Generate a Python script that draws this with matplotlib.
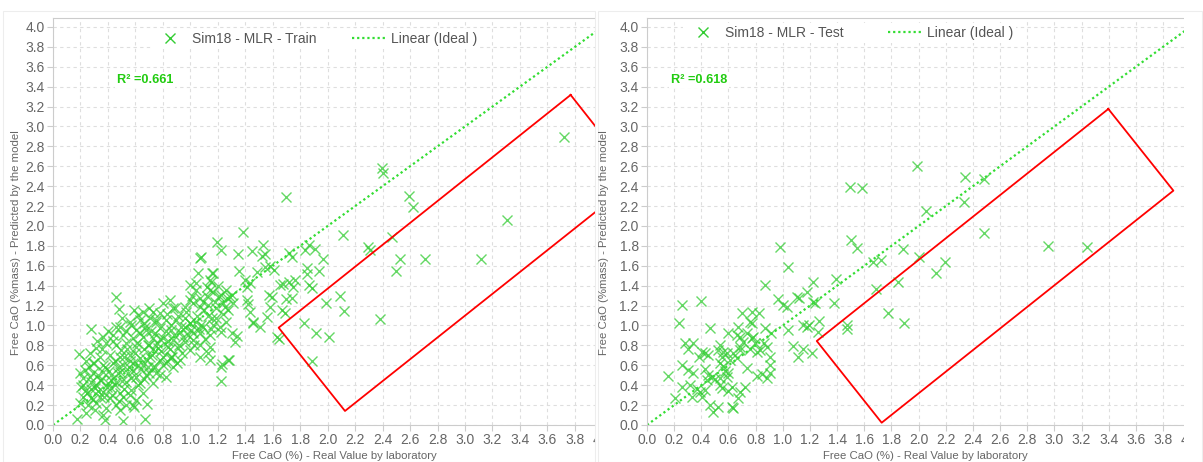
import matplotlib
matplotlib.use("Agg")
import matplotlib.pyplot as plt
from matplotlib.lines import Line2D
from matplotlib.patches import Rectangle
import numpy as np

plt.rcParams['font.family'] = ['Liberation Sans', 'DejaVu Sans']

# Free CaO, training set: real (lab) value vs model prediction
train_real = [
    0.995, 1.044, 1.262, 1.286, 1.226, 1.141, 1.068,
    0.801, 0.850, 0.874, 0.959, 0.995, 1.019, 1.068, 1.129, 1.189, 1.238, 1.274, 0.728, 0.777, 0.655, 0.619,
    0.558, 0.631, 0.704, 0.752, 0.825, 0.898, 0.959, 0.995, 1.044, 1.092, 1.165, 1.214, 1.262, 0.485, 0.607,
    0.680, 0.777, 0.862, 0.922, 1.007, 1.068, 1.141, 1.226,
    0.364, 0.437, 0.510, 0.583, 0.655, 0.728, 0.801, 0.874, 0.959, 1.019, 0.388, 0.461, 0.534, 0.607, 0.692,
    0.765, 0.837, 0.910, 0.995, 1.068, 0.316, 0.498,
    0.267, 0.340, 0.413, 0.485, 0.558, 0.631, 0.704, 0.777, 0.850, 0.922, 0.291, 0.364, 0.437, 0.510, 0.583,
    0.655, 0.728, 0.801, 0.874, 1.068, 1.141,
    0.231, 0.291, 0.364, 0.425, 0.485, 0.546, 0.607, 0.680, 0.752, 0.825, 0.218, 0.279, 0.340, 0.400, 0.461,
    0.534, 0.631, 0.728,
    0.206, 0.243, 0.303, 0.364, 0.425, 0.485, 0.570, 0.655, 0.218, 0.279, 0.340, 0.413, 0.510, 0.607,
    0.194, 0.255, 0.316, 0.388, 0.461, 0.583, 0.243, 0.303, 0.364, 0.485,
    0.172, 0.379, 0.507, 0.669, 0.590, 0.687,
    0.461, 0.481, 0.274, 0.189, 1.226, 1.226, 1.274, 1.075, 1.226, 1.056, 1.160, 1.044, 1.153,
    2.393, 2.400, 2.594, 2.623, 2.466, 2.526, 2.497, 2.708, 3.114, 3.308, 3.723, 2.381,
    1.694, 1.386, 2.109, 2.296, 2.308, 2.090, 1.988, 2.121, 1.830, 1.915, 2.009, 1.888,
    1.835, 1.866, 1.908, 1.968, 1.720, 1.738, 1.847, 1.847, 1.939, 1.866, 1.883, 1.720, 1.762, 1.745,
    1.653, 1.677, 1.696, 1.738, 1.629, 1.648, 1.665, 1.689, 1.507, 1.454, 1.556, 1.580, 1.592, 1.575,
    1.531, 1.544, 1.519, 1.447, 1.345, 1.196, 1.357, 1.483, 1.544, 1.580, 1.609, 1.434, 1.410, 1.398,
    1.301, 1.265, 1.252, 1.313, 1.410, 1.422, 1.434, 1.458, 1.337, 1.325, 1.301, 1.228, 1.284,
    1.143, 1.131, 1.070, 1.167, 1.143, 1.119, 1.167,
    # dense core of the cloud
    0.30, 0.33, 0.38, 0.42, 0.45, 0.47, 0.52, 0.55, 0.57, 0.60, 0.62, 0.66, 0.68, 0.70, 0.72, 0.74, 0.76, 0.79,
    0.82, 0.84, 0.86, 0.88, 0.91, 0.93, 0.95, 0.97, 1.00, 1.02, 1.05, 1.08, 1.10, 1.12, 1.16, 1.18, 1.20, 1.24,
    0.22, 0.25, 0.27, 0.29, 0.31, 0.33, 0.35, 0.37, 0.39, 0.41, 0.43, 0.45, 0.48, 0.50, 0.52, 0.54, 0.56, 0.58,
    0.61, 0.63, 0.64, 0.67, 0.69, 0.71, 0.73, 0.75, 0.78, 0.80, 0.83, 0.85, 0.87, 0.89, 0.92, 0.94, 0.96, 0.98,
    1.01, 1.03, 1.06, 1.09, 1.11, 1.13, 1.15, 1.19, 1.21, 0.26, 0.28, 0.20, 0.24, 0.32, 0.36, 0.40, 0.44, 0.46,
    0.50, 0.53, 0.57, 0.59, 0.66, 0.70, 0.48, 0.53, 0.56, 0.62, 0.66, 0.70, 0.74, 0.78, 0.82, 0.86, 0.90,
]
train_pred = [
    1.407, 1.357, 1.357, 1.290, 1.307, 1.357, 1.273,
    1.223, 1.256, 1.173, 1.189, 1.256, 1.223, 1.189, 1.206, 1.173, 1.223, 1.156, 1.139, 1.123, 1.139, 1.106,
    1.039, 1.056, 1.072, 1.039, 1.056, 1.056, 1.072, 1.022, 1.039, 0.988, 1.005, 0.988, 1.039, 0.988, 0.955,
    0.955, 0.972, 0.955, 0.938, 0.955, 0.921, 0.905, 0.938,
    0.888, 0.905, 0.905, 0.871, 0.888, 0.871, 0.871, 0.854, 0.838, 0.854, 0.821, 0.804, 0.821, 0.787, 0.804,
    0.771, 0.787, 0.771, 0.754, 0.804, 0.771, 0.754,
    0.720, 0.687, 0.704, 0.687, 0.704, 0.670, 0.687, 0.653, 0.670, 0.653, 0.620, 0.603, 0.620, 0.603, 0.620,
    0.603, 0.587, 0.603, 0.587, 0.687, 0.653,
    0.553, 0.519, 0.536, 0.503, 0.536, 0.519, 0.486, 0.503, 0.519, 0.486, 0.469, 0.436, 0.452, 0.419, 0.436,
    0.436, 0.419, 0.419,
    0.385, 0.352, 0.369, 0.335, 0.369, 0.318, 0.352, 0.318, 0.285, 0.268, 0.285, 0.268, 0.285, 0.252,
    0.218, 0.201, 0.218, 0.168, 0.201, 0.201, 0.117, 0.151, 0.101, 0.151,
    0.060, 0.050, 0.040, 0.060, 0.184, 0.211,
    1.290, 1.163, 0.965, 0.714, 0.586, 0.445, 0.653, 1.692, 1.759, 1.524, 1.524, 1.424, 1.441,
    2.580, 2.530, 2.300, 2.194, 1.887, 1.668, 1.551, 1.668, 1.668, 2.060, 2.898, 1.062,
    2.288, 1.937, 1.906, 1.786, 1.759, 1.300, 1.223, 1.149, 1.028, 0.921, 0.881, 0.646,
    1.759, 1.809, 1.766, 1.665, 1.732, 1.692, 1.575, 1.518, 1.551, 1.407, 1.374, 1.440, 1.457, 1.390,
    1.407, 1.417, 1.263, 1.273, 0.881, 0.861, 1.156, 1.122, 0.988, 1.038, 1.082, 1.189, 1.290, 1.307,
    1.809, 1.719, 1.698, 1.752, 1.719, 1.842, 1.551, 1.541, 1.585, 1.598, 1.558, 1.430, 1.390, 1.457,
    1.307, 1.273, 1.189, 1.223, 1.256, 1.216, 1.139, 1.028, 0.894, 0.837, 0.921, 0.613, 0.653,
    0.787, 0.727, 1.675, 1.524, 1.457, 1.390, 1.340,
    # dense core of the cloud
    0.62, 0.50, 0.58, 0.45, 0.64, 0.52, 0.68, 0.58, 0.47, 0.72, 0.60, 0.76, 0.66, 0.80, 0.70, 0.92, 0.82, 0.74,
    0.94, 0.84, 1.00, 0.90, 1.10, 0.98, 0.88, 1.14, 1.02, 0.92, 1.10, 1.00, 1.16, 1.30, 1.08, 1.24, 1.40, 1.12,
    0.40, 0.32, 0.48, 0.26, 0.40, 0.34, 0.45, 0.28, 0.38, 0.54, 0.30, 0.40, 0.58, 0.44, 0.36, 0.76, 0.64, 0.54,
    0.82, 0.92, 0.56, 0.98, 0.58, 0.94, 0.76, 1.06, 0.86, 0.68, 1.12, 0.76, 0.68, 1.18, 0.80, 0.72, 0.98, 0.90,
    1.30, 0.80, 0.96, 1.24, 0.86, 1.10, 0.96, 1.08, 1.30, 0.58, 0.36, 0.52, 0.64, 0.84, 0.76, 0.94, 0.84, 0.98,
    1.08, 0.94, 1.00, 1.16, 1.02, 1.18, 0.24, 0.20, 0.30, 0.40, 0.46, 0.52, 0.58, 0.50, 0.62, 0.68, 0.62,
]

# Free CaO, test set
test_real = [
    1.495, 1.581, 1.500, 1.544, 0.979, 1.041, 0.869, 1.225, 1.392, 1.176, 1.102, 1.122, 0.967, 1.029, 1.004,
    1.220, 1.237, 1.377, 0.260, 0.395, 0.238, 0.464, 0.697, 0.771, 0.827, 0.758, 0.771, 0.869, 0.911, 1.041,
    1.151, 1.176, 1.193, 1.269, 1.261, 1.475, 1.475, 1.077, 1.146, 1.114, 1.213,
    0.599, 0.673, 0.685, 0.661, 0.734, 0.771, 0.783, 0.795, 0.709, 0.685, 0.758, 0.808, 0.832, 0.862, 0.881,
    0.280, 0.341, 0.304, 0.403, 0.427, 0.385, 0.451, 0.538, 0.525, 0.562, 0.587, 0.550, 0.636, 0.685, 0.661,
    0.611, 0.255, 0.304, 0.341, 0.427, 0.451, 0.476, 0.440, 0.500, 0.538, 0.562, 0.574, 0.599, 0.587, 0.538,
    0.734, 0.808, 0.845, 0.881, 0.906, 0.906, 0.906, 0.152, 0.255, 0.317, 0.366, 0.390, 0.427, 0.403, 0.206,
    0.329, 0.538, 0.550, 0.599, 0.624, 0.685, 0.672, 0.722, 0.464, 0.525, 0.488, 0.624, 0.636,
    1.986, 2.342, 2.482, 2.334, 2.054, 2.482, 1.883, 2.005, 1.723, 1.662, 2.194, 2.128, 1.851, 1.686, 1.777,
    1.892, 2.951, 3.242,
]
test_pred = [
    2.395, 2.385, 1.860, 1.776, 1.786, 1.585, 1.407, 1.440, 1.464, 1.340, 1.290, 1.273, 1.263, 1.189, 1.206,
    1.240, 1.230, 1.230, 1.206, 1.250, 1.028, 0.978, 1.122, 1.139, 1.129, 1.038, 1.022, 0.978, 0.928, 0.955,
    1.005, 0.988, 1.005, 1.048, 0.938, 1.005, 0.965, 0.794, 0.761, 0.687, 0.727,
    0.928, 0.982, 0.888, 0.905, 0.928, 0.871, 0.888, 0.821, 0.837, 0.787, 0.761, 0.737, 0.754, 0.821, 0.787,
    0.821, 0.821, 0.761, 0.737, 0.720, 0.687, 0.704, 0.804, 0.754, 0.737, 0.720, 0.687, 0.720, 0.754, 0.670,
    0.653, 0.603, 0.553, 0.526, 0.560, 0.503, 0.486, 0.452, 0.459, 0.620, 0.593, 0.546, 0.520, 0.486, 0.469,
    0.570, 0.492, 0.513, 0.469, 0.520, 0.603, 0.687, 0.492, 0.379, 0.402, 0.359, 0.335, 0.352, 0.284, 0.268,
    0.278, 0.402, 0.369, 0.345, 0.379, 0.335, 0.268, 0.379, 0.201, 0.184, 0.134, 0.184, 0.168,
    2.603, 2.496, 2.472, 2.244, 2.151, 1.926, 1.769, 1.692, 1.658, 1.641, 1.641, 1.525, 1.440, 1.367, 1.122,
    1.028, 1.802, 1.792,
]

# highlighted under-predicted region (corners in data units)
train_box_x = [3.769, 4.252, 2.126, 1.643, 3.769]
train_box_y = [3.317, 2.472, 0.141, 0.978, 3.317]
test_box_x = [3.397, 3.876, 1.728, 1.250, 3.397]
test_box_y = [3.176, 2.355, 0.023, 0.844, 3.176]

ideal = [0.0, 4.5]
ticks = np.arange(0, 4.01, 0.2)
tick_labels = ['%.1f' % t for t in ticks]

GREEN = '#33cc33'
W, H = 1203, 462


def px_box(left, top, right, bottom):
    return [left / W, 1 - bottom / H, (right - left) / W, (bottom - top) / H]


def style_axes(ax, xmax):
    ax.set_xlim(0, xmax)
    ax.set_ylim(0, 4.09)
    ax.set_xticks(ticks)
    ax.set_xticklabels(tick_labels)
    ax.set_yticks(ticks)
    ax.set_yticklabels(tick_labels)
    ax.tick_params(labelsize=10, labelcolor='#666666', color='#cccccc', length=4, pad=2)
    ax.grid(True, color='#dedede', linestyle=(0, (3, 3)), linewidth=0.8)
    ax.set_axisbelow(True)
    for side in ['left', 'bottom', 'top']:
        ax.spines[side].set_color('#cccccc')
    ax.spines['right'].set_visible(False)


fig = plt.figure(figsize=(W / 100, H / 100), dpi=100)

ax1 = fig.add_axes(px_box(53, 18, 615, 425), zorder=0)
ax2 = fig.add_axes(px_box(647, 18, 1200, 425), zorder=2)

panels = [
    (ax1, 4.092, train_real, train_pred, train_box_x, train_box_y, 'Sim18 - MLR - Train', 0.661, 150, 39, 2.6, 117),
    (ax2, 4.072, test_real, test_pred, test_box_x, test_box_y, 'Sim18 - MLR - Test', 0.618, 683, 33, 3.2, 671),
]

for ax, xmax, xr, yp, bx, by, name, r2, leg_x, leg_y, colsp, r2_x in panels:
    style_axes(ax, xmax)
    ax.plot(xr, yp, 'x', color=GREEN, ms=7, mew=1.0, alpha=0.75)
    ax.plot(ideal, ideal, color='#33dd33', linestyle=(0, (1, 1.3)), linewidth=1.6)
    ax.plot(bx, by, color='red', linewidth=1.3)

    handles = [
        Line2D([], [], marker='x', ls='none', color=GREEN, ms=7, mew=1.0),
        Line2D([], [], color='#33dd33', linestyle=(0, (1, 1.3)), linewidth=1.6),
    ]
    leg = ax.legend(handles, [name, 'Linear (Ideal )'], ncol=2, loc='center left',
                    bbox_to_anchor=(leg_x / W, 1 - leg_y / H), bbox_transform=fig.transFigure,
                    frameon=True, facecolor='white', edgecolor='none', framealpha=1,
                    fontsize=10, handlelength=2.45, handletextpad=0.35, columnspacing=colsp,
                    borderpad=0.2, borderaxespad=0)
    for t in leg.get_texts():
        t.set_color('#555555')

    fig.text(r2_x / W, 1 - 80 / H, 'R² =%.3f' % r2, ha='left', va='center', fontsize=9.2,
             fontweight='bold', color='#22cc11', zorder=5,
             bbox=dict(facecolor='white', edgecolor='none', pad=1.5))

# white strips hiding the panel overflow
fig.patches.append(Rectangle((596 / W, 0), 49 / W, 1, transform=fig.transFigure,
                             facecolor='white', edgecolor='none', zorder=1))
fig.patches.append(Rectangle((1184 / W, 0), 19 / W, 1, transform=fig.transFigure,
                             facecolor='white', edgecolor='none', zorder=3))

# faint panel frames
for l, r in [(3, 595), (598, 1202)]:
    fig.patches.append(Rectangle((l / W, 0), (r - l) / W, 1 - 11 / H, transform=fig.transFigure,
                                 facecolor='none', edgecolor='#ededed', linewidth=0.8, zorder=4))

label_kw = dict(fontsize=8.2, color='#666666', ha='center', va='center', zorder=5)
fig.text(334 / W, 1 - 456 / H, 'Free CaO (%) - Real Value by laboratory', **label_kw)
fig.text(925 / W, 1 - 456 / H, 'Free CaO (%) - Real Value by laboratory', **label_kw)
fig.text(16 / W, 1 - 243 / H, 'Free CaO (%mass) - Predicted by the model', rotation=90, **label_kw)
fig.text(604 / W, 1 - 243 / H, 'Free CaO (%mass) - Predicted by the model', rotation=90, **label_kw)

fig.savefig('out.png', dpi=100)
